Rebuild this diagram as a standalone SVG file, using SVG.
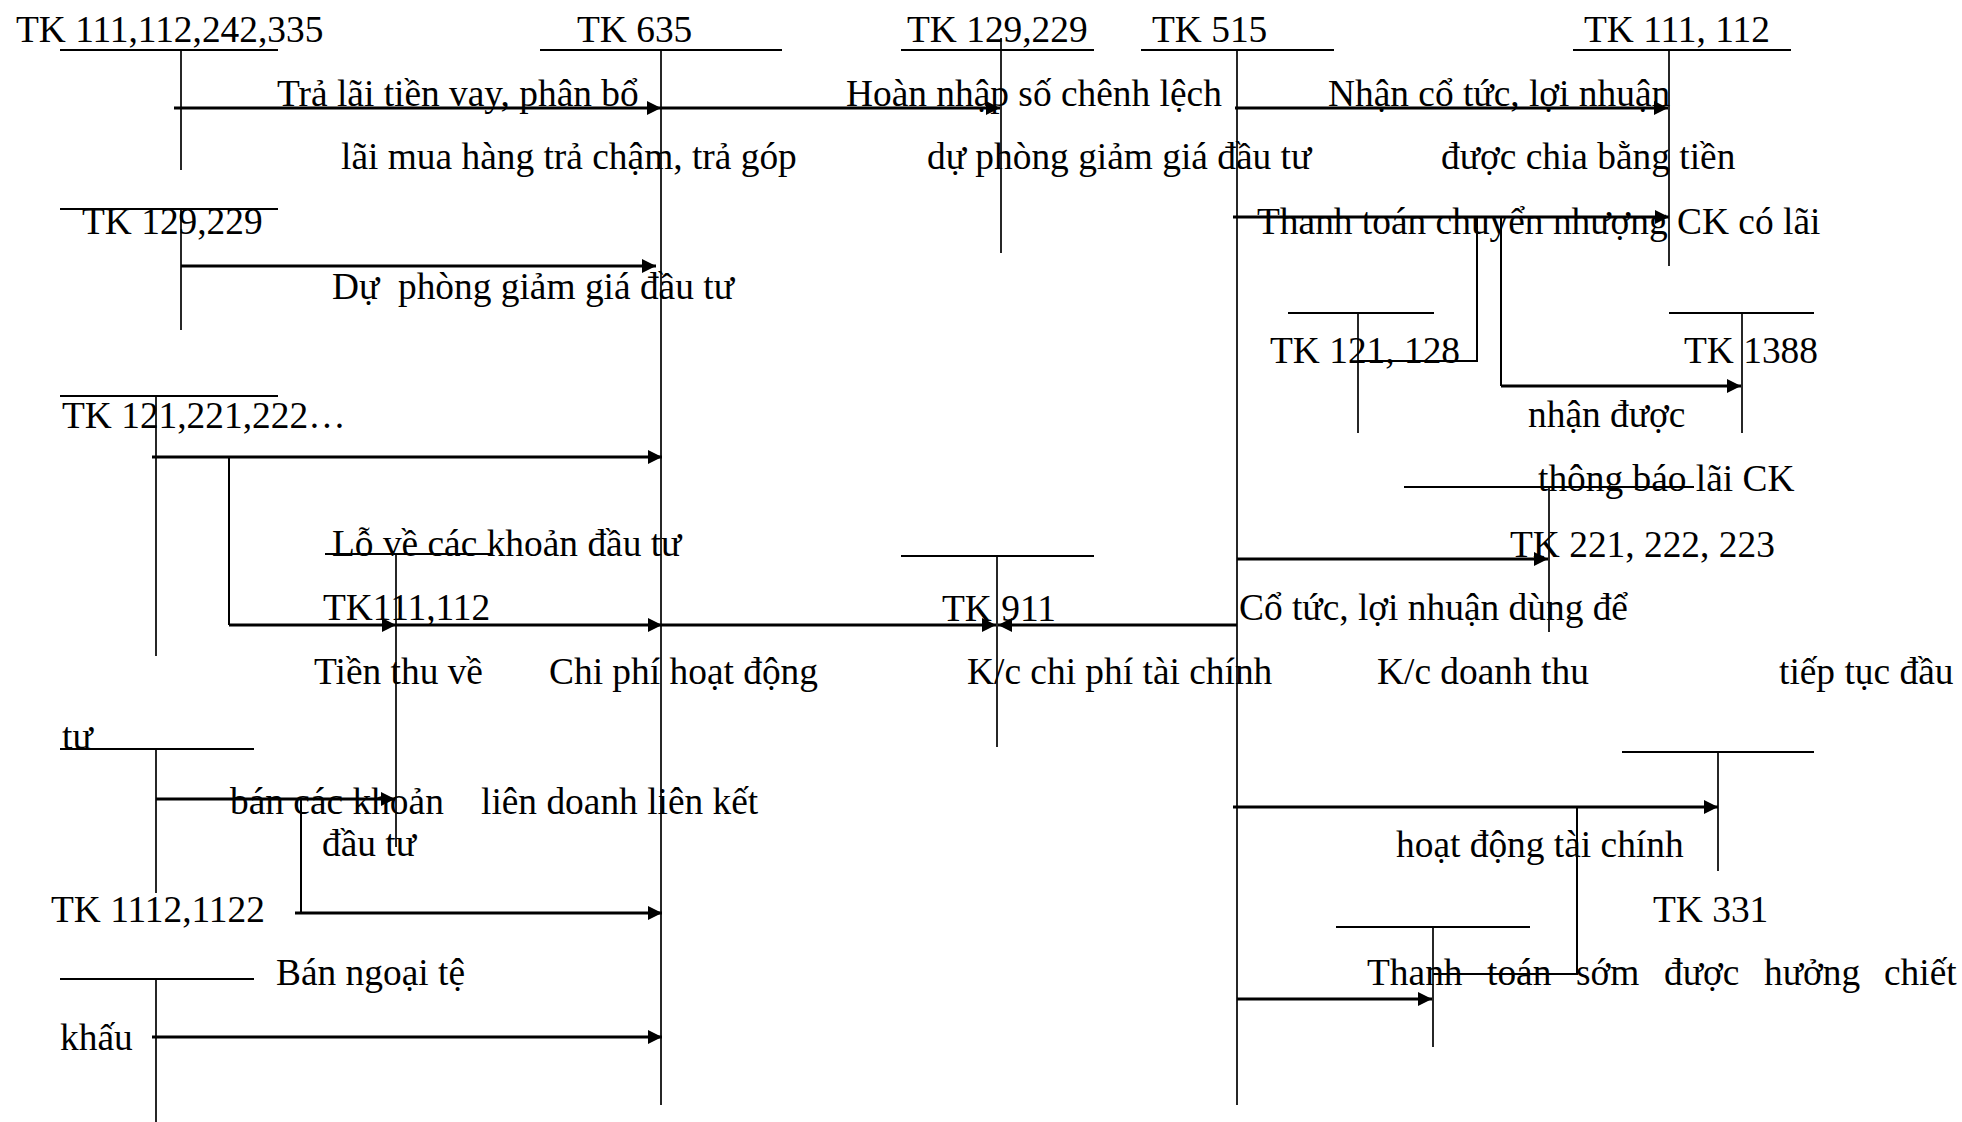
<svg xmlns="http://www.w3.org/2000/svg" width="1962" height="1122" viewBox="0 0 1962 1122">
<defs>
<marker id="ah" markerUnits="userSpaceOnUse" markerWidth="16" markerHeight="16" refX="14" refY="7" orient="auto">
<path d="M0,0 L14,7 L0,14 Z" fill="#000"/>
</marker>
<style>
.t{font-family:"Liberation Serif","Times New Roman",serif;font-size:37.4px;fill:#000;white-space:pre}
.h{stroke:#000;stroke-width:2;fill:none}
.v{stroke:#000;stroke-width:1.7;fill:none}
.ar{stroke:#000;stroke-width:3;fill:none;marker-end:url(#ah)}
.br{stroke:#000;stroke-width:2;fill:none}
</style>
</defs>
<rect width="1962" height="1122" fill="#fff"/>

<g id="acct-111-112-242-335"><line class="h" x1="60" y1="50" x2="278" y2="50"/><line class="v" x1="181" y1="50" x2="181" y2="170"/><text class="t" x="16" y="42">TK 111,112,242,335</text></g>
<g id="acct-635"><line class="h" x1="540" y1="50" x2="782" y2="50"/><line class="v" x1="661" y1="50" x2="661" y2="1105"/><text class="t" x="577" y="42">TK 635</text></g>
<g id="acct-129-229-top"><line class="h" x1="901" y1="50" x2="1094" y2="50"/><line class="v" x1="1001" y1="38" x2="1001" y2="253"/><text class="t" x="907" y="42">TK 129,229</text></g>
<g id="acct-515"><line class="h" x1="1141" y1="50" x2="1334" y2="50"/><line class="v" x1="1237" y1="50" x2="1237" y2="1105"/><text class="t" x="1152" y="42">TK 515</text></g>
<g id="acct-111-112-right"><line class="h" x1="1573" y1="50" x2="1791" y2="50"/><line class="v" x1="1669" y1="50" x2="1669" y2="266"/><text class="t" x="1584" y="42">TK 111, 112</text></g>
<g id="acct-129-229-left"><line class="h" x1="60" y1="209" x2="278" y2="209"/><line class="v" x1="181" y1="209" x2="181" y2="330"/><text class="t" x="82" y="234">TK 129,229</text></g>
<g id="acct-121-128"><line class="h" x1="1288" y1="313" x2="1434" y2="313"/><line class="v" x1="1358" y1="313" x2="1358" y2="433"/><text class="t" x="1270" y="363">TK 121, 128</text></g>
<g id="acct-1388"><line class="h" x1="1669" y1="313" x2="1814" y2="313"/><line class="v" x1="1742" y1="313" x2="1742" y2="433"/><text class="t" x="1684" y="363">TK 1388</text></g>
<g id="acct-121-221-222"><line class="h" x1="60" y1="396" x2="278" y2="396"/><line class="v" x1="156" y1="396" x2="156" y2="656"/><text class="t" x="62" y="428">TK 121,221,222…</text></g>
<g id="acct-221-222-223"><line class="h" x1="1404" y1="487" x2="1694" y2="487"/><line class="v" x1="1549" y1="487" x2="1549" y2="632"/><text class="t" x="1510" y="557">TK 221, 222, 223</text></g>
<g id="acct-111-112-mid"><line class="h" x1="325" y1="554" x2="491" y2="554"/><line class="v" x1="396" y1="554" x2="396" y2="847"/><text class="t" x="323" y="620">TK111,112</text></g>
<g id="acct-911"><line class="h" x1="901" y1="556" x2="1094" y2="556"/><line class="v" x1="997" y1="556" x2="997" y2="747"/><text class="t" x="942" y="621">TK 911</text></g>
<g id="acct-left-749"><line class="h" x1="60" y1="749" x2="254" y2="749"/><line class="v" x1="156" y1="749" x2="156" y2="893"/></g>
<g id="acct-1112-1122"><line class="h" x1="60" y1="979" x2="254" y2="979"/><line class="v" x1="156" y1="979" x2="156" y2="1122"/><text class="t" x="51" y="922">TK 1112,1122</text></g>
<g id="acct-331"><line class="h" x1="1622" y1="752" x2="1814" y2="752"/><line class="v" x1="1718" y1="752" x2="1718" y2="871"/><text class="t" x="1653" y="922">TK 331</text></g>
<g id="acct-unnamed"><line class="h" x1="1336" y1="927" x2="1530" y2="927"/><line class="v" x1="1433" y1="927" x2="1433" y2="1047"/></g>

<g id="connectors">
<path class="ar" d="M174,108 H661"/>
<path class="ar" d="M661,108 H1000"/>
<path class="ar" d="M1235,108 H1668"/>
<path class="ar" d="M181,266 H656"/>
<path class="ar" d="M1233,217 H1669"/>
<path class="br" d="M1358,361 H1477 V217"/>
<path class="br" d="M1501,217 V386"/>
<path class="ar" d="M1501,386 H1741"/>
<path class="ar" d="M152,457 H662"/>
<path class="br" d="M229,457 V625"/>
<path class="ar" d="M229,625 H396"/>
<path class="ar" d="M396,625 H662"/>
<path class="ar" d="M662,625 H996"/>
<path class="ar" d="M1237,625 H998"/>
<path class="ar" d="M1237,559 H1548"/>
<path class="ar" d="M156,799 H395"/>
<path class="br" d="M301,799 V913"/>
<path class="ar" d="M295,913 H662"/>
<path class="ar" d="M152,1037 H662"/>
<path class="ar" d="M1233,807 H1718"/>
<path class="br" d="M1433,974 H1577 V807"/>
<path class="ar" d="M1237,999 H1432"/>
</g>

<g id="labels">
<text class="t" x="277" y="106">Trả lãi tiền vay, phân bổ</text>
<text class="t" x="846" y="106">Hoàn nhập số chênh lệch</text>
<text class="t" x="1328" y="106">Nhận cổ tức, lợi nhuận</text>
<text class="t" x="341" y="169">lãi mua hàng trả chậm, trả góp</text>
<text class="t" x="927" y="169">dự phòng giảm giá đầu tư</text>
<text class="t" x="1441" y="169">được chia bằng tiền</text>
<text class="t" x="1257" y="234">Thanh toán chuyển nhượng CK có lãi</text>
<text class="t" x="332" y="299">Dự  phòng giảm giá đầu tư</text>
<text class="t" x="1528" y="427">nhận được</text>
<text class="t" x="1538" y="491">thông báo lãi CK</text>
<text class="t" x="332" y="556">Lỗ về các khoản đầu tư</text>
<text class="t" x="1239" y="620">Cổ tức, lợi nhuận dùng để</text>
<text class="t" x="314" y="684">Tiền thu về</text>
<text class="t" x="549" y="684">Chi phí hoạt động</text>
<text class="t" x="967" y="684">K/c chi phí tài chính</text>
<text class="t" x="1377" y="684">K/c doanh thu</text>
<text class="t" x="1779" y="684">tiếp tục đầu</text>
<text class="t" x="62" y="749">tư</text>
<text class="t" x="230" y="814">bán các khoản</text>
<text class="t" x="481" y="814">liên doanh liên kết</text>
<text class="t" x="322" y="856">đầu tư</text>
<text class="t" x="1396" y="857">hoạt động tài chính</text>
<text class="t" x="276" y="985">Bán ngoại tệ</text>
<text class="t" y="985"><tspan x="1367">Thanh</tspan><tspan x="1487">toán</tspan><tspan x="1576">sớm</tspan><tspan x="1664">được</tspan><tspan x="1764">hưởng</tspan><tspan x="1884">chiết</tspan></text>
<text class="t" x="60" y="1050">khấu</text>
</g>
</svg>
